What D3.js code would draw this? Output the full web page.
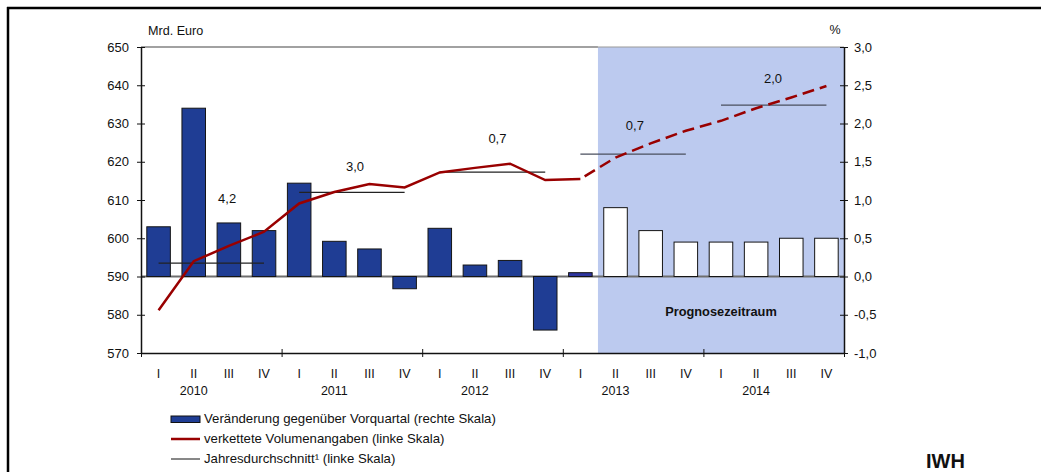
<!DOCTYPE html>
<html>
<head>
<meta charset="utf-8">
<script src="https://cdn.jsdelivr.net/npm/d3@7"></script>
<style>
	body { margin: 0; background: #fff; }
	svg text { font-family: "Liberation Sans", Arial, sans-serif; fill: #111; }
</style>
</head>
<body>
<div id="chart"></div>
<script>
(function () {
	//Data
	const years = ['2010', '2011', '2012', '2013', '2014'];
	const quarterNames = ['I', 'II', 'III', 'IV'];

	//Veränderung gegenüber Vorquartal, % (right scale)
	const changeValues = [0.65, 2.2, 0.7, 0.6, 1.22, 0.46, 0.36, -0.16, 0.63, 0.15, 0.21, -0.7, 0.05,
		0.9, 0.6, 0.45, 0.45, 0.45, 0.5, 0.5];

	//verkettete Volumenangaben, Mrd. Euro (left scale)
	const volumeValues = [581.2, 594.0, 598.0, 601.7, 609.1, 612.1, 614.2, 613.3, 617.2, 618.4, 619.5, 615.2, 615.5,
		621.1, 624.8, 628.1, 630.7, 634.0, 636.8, 639.8];

	//Jahresdurchschnitt (left scale) and annual growth labels
	const yearAverages = [593.5, 612.0, 617.3, 622.0, 634.8];
	const yearGrowth = ['4,2', '3,0', '0,7', '0,7', '2,0'];

	const firstForecast = 13;      //2013 II is the first forecast quarter
	const leftTicks = [570, 580, 590, 600, 610, 620, 630, 640, 650];
	const rightTicks = [-1, -0.5, 0, 0.5, 1, 1.5, 2, 2.5, 3];

	//Where the growth labels sit: quarter offset inside the year and height on the left scale
	const labelQuarter = [1.95, 1.59, 1.64, 1.55, 1.48];
	const labelLevel = [610, 618.4, 625.7, 629.3, 641.4];

	let quarters = [];
	years.forEach(y => quarterNames.forEach(q => quarters.push(y + '-' + q)));

	const W = 1041, H = 472;
	let plot = { left: 141, right: 844, top: 47, bottom: 353 };

	let svg = d3.select('#chart')
		.append('svg')
		.attr('width', W)
		.attr('height', H);

	//Scales
	let xScale = d3.scaleBand()
		.domain(quarters)
		.range([plot.left, plot.right])
		.paddingInner(0.33)
		.paddingOuter(0.165);

	let xq = d3.scaleLinear()
		.domain([0, quarters.length])
		.range([plot.left, plot.right]);

	let yLeft = d3.scaleLinear()
		.domain([570, 650])
		.range([plot.bottom, plot.top]);

	let yRight = d3.scaleLinear()
		.domain([-1, 3])
		.range([plot.bottom, plot.top]);

	const center = (i) => xScale(quarters[i]) + xScale.bandwidth() / 2;
	const comma = (d) => d.toFixed(1).replace('.', ',');

	//Outer frame (top and left edge only)
	svg.append('line')
		.attr('x1', 7).attr('x2', W).attr('y1', 8).attr('y2', 8)
		.attr('stroke', '#000').attr('stroke-width', 2.5);
	svg.append('line')
		.attr('x1', 8).attr('x2', 8).attr('y1', 7).attr('y2', H)
		.attr('stroke', '#000').attr('stroke-width', 2.5);

	//Forecast shading
	svg.append('rect')
		.attr('x', xq(firstForecast))
		.attr('y', plot.top)
		.attr('width', plot.right - xq(firstForecast))
		.attr('height', plot.bottom - plot.top)
		.attr('fill', '#bccaef');

	//Top border of the plot area
	svg.append('line')
		.attr('x1', plot.left).attr('x2', xq(firstForecast))
		.attr('y1', plot.top).attr('y2', plot.top)
		.attr('stroke', '#444').attr('stroke-width', 1.2);
	svg.append('line')
		.attr('x1', xq(firstForecast)).attr('x2', plot.right)
		.attr('y1', plot.top).attr('y2', plot.top)
		.attr('stroke', '#999').attr('stroke-width', 1.2);

	svg.append('text')
		.attr('x', xq(firstForecast + 3.5))
		.attr('y', yRight(-0.47))
		.attr('text-anchor', 'middle')
		.attr('dominant-baseline', 'middle')
		.style('font-size', '12.8px')
		.style('font-weight', 'bold')
		.text('Prognosezeitraum');

	//Zero line
	svg.append('line')
		.attr('x1', plot.left).attr('x2', plot.right)
		.attr('y1', yRight(0)).attr('y2', yRight(0))
		.attr('stroke', '#6e6e6e').attr('stroke-width', 2);

	//Bars
	svg.selectAll('rect.bar')
		.data(changeValues)
		.enter()
		.append('rect')
		.attr('class', 'bar')
		.attr('x', (d, i) => xScale(quarters[i]))
		.attr('y', d => yRight(Math.max(d, 0)))
		.attr('width', xScale.bandwidth())
		.attr('height', d => Math.abs(yRight(d) - yRight(0)))
		.attr('fill', (d, i) => i >= firstForecast ? '#fff' : (i === firstForecast - 1 ? '#2e35a0' : '#1f3d94'))
		.attr('stroke', '#151515')
		.attr('stroke-width', 1);

	//Annual averages
	svg.selectAll('line.avg')
		.data(yearAverages)
		.enter()
		.append('line')
		.attr('class', 'avg')
		.attr('x1', (d, i) => center(i * 4))
		.attr('x2', (d, i) => center(i * 4 + 3))
		.attr('y1', d => yLeft(d))
		.attr('y2', d => yLeft(d))
		.attr('stroke', (d, i) => i >= 3 ? '#4a4f5e' : '#222')
		.attr('stroke-width', 1.3);

	svg.selectAll('text.growth')
		.data(yearGrowth)
		.enter()
		.append('text')
		.attr('class', 'growth')
		.attr('x', (d, i) => xq(i * 4 + labelQuarter[i] + 0.5))
		.attr('y', (d, i) => yLeft(labelLevel[i]))
		.attr('text-anchor', 'middle')
		.attr('dominant-baseline', 'middle')
		.style('font-size', '13px')
		.text(d => d);

	//Volume line: solid for actuals, dashed for forecast
	let line = d3.line()
		.x(d => center(d.i))
		.y(d => yLeft(d.v));

	let volume = volumeValues.map((v, i) => ({ i, v }));

	svg.append('path')
		.datum(volume.slice(0, firstForecast))
		.attr('d', line)
		.attr('fill', 'none')
		.attr('stroke', '#990000')
		.attr('stroke-width', 2.5);

	svg.append('path')
		.datum(volume.slice(firstForecast - 1))
		.attr('d', line)
		.attr('fill', 'none')
		.attr('stroke', '#990000')
		.attr('stroke-width', 2.5)
		.attr('stroke-dasharray', '12,6')
		.attr('stroke-dashoffset', -5);

	//Left axis
	let leftAxis = svg.append('g')
		.attr('transform', `translate(${plot.left},0)`)
		.call(d3.axisLeft(yLeft).tickValues(leftTicks).tickSize(4).tickPadding(8).tickSizeOuter(0));
	leftAxis.selectAll('.tick line').attr('x2', 4).attr('x1', -4).attr('stroke', '#111');
	leftAxis.select('.domain').attr('stroke', '#111').attr('stroke-width', 1.5);
	leftAxis.selectAll('text').style('font-size', '13px').style('font-family', '"Liberation Sans", Arial, sans-serif');

	//Right axis
	let rightAxis = svg.append('g')
		.attr('transform', `translate(${plot.right},0)`)
		.call(d3.axisRight(yRight).tickValues(rightTicks).tickFormat(comma).tickSize(4).tickPadding(6).tickSizeOuter(0));
	rightAxis.selectAll('.tick line').attr('x1', -4).attr('x2', 4).attr('stroke', '#111');
	rightAxis.select('.domain').attr('stroke', '#111').attr('stroke-width', 1.5);
	rightAxis.selectAll('text').style('font-size', '13px').style('font-family', '"Liberation Sans", Arial, sans-serif');

	//Bottom axis: ticks at year boundaries
	let bottomAxis = svg.append('g')
		.attr('transform', `translate(0,${plot.bottom})`)
		.call(d3.axisBottom(xq).tickValues(d3.range(0, quarters.length + 1, 4)).tickFormat('').tickSize(4).tickSizeOuter(0));
	bottomAxis.selectAll('.tick line').attr('y1', -4).attr('y2', 4).attr('stroke', '#111');
	bottomAxis.select('.domain').attr('stroke', '#111').attr('stroke-width', 1.5);

	svg.selectAll('text.quarter')
		.data(quarters)
		.enter()
		.append('text')
		.attr('class', 'quarter')
		.attr('x', (d, i) => center(i))
		.attr('y', 375)
		.attr('text-anchor', 'middle')
		.attr('dominant-baseline', 'middle')
		.style('font-size', '12.5px')
		.text(d => d.split('-')[1]);

	svg.selectAll('text.year')
		.data(years)
		.enter()
		.append('text')
		.attr('class', 'year')
		.attr('x', (d, i) => center(i * 4 + 1))
		.attr('y', 392)
		.attr('text-anchor', 'middle')
		.attr('dominant-baseline', 'middle')
		.style('font-size', '12.5px')
		.text(d => d);

	//Axis titles
	svg.append('text')
		.attr('x', 148).attr('y', 32)
		.attr('dominant-baseline', 'middle')
		.style('font-size', '12.6px')
		.text('Mrd. Euro');

	svg.append('text')
		.attr('x', 835).attr('y', 31)
		.attr('text-anchor', 'middle')
		.attr('dominant-baseline', 'middle')
		.style('font-size', '12.5px')
		.text('%');

	//Legend
	let legend = svg.append('g').attr('transform', 'translate(171,0)');

	legend.append('rect')
		.attr('x', 0).attr('y', 416)
		.attr('width', 29).attr('height', 6.5)
		.attr('fill', '#1f3d94').attr('stroke', '#111').attr('stroke-width', 1);
	legend.append('line')
		.attr('x1', 0).attr('x2', 29).attr('y1', 439).attr('y2', 439)
		.attr('stroke', '#990000').attr('stroke-width', 2.5);
	legend.append('line')
		.attr('x1', 0).attr('x2', 29).attr('y1', 459).attr('y2', 459)
		.attr('stroke', '#111').attr('stroke-width', 1);

	const legendLabels = [
		'Veränderung gegenüber Vorquartal (rechte Skala)',
		'verkettete Volumenangaben (linke Skala)',
		'Jahresdurchschnitt¹ (linke Skala)'
	];

	legend.selectAll('text')
		.data(legendLabels)
		.enter()
		.append('text')
		.attr('x', 33)
		.attr('y', (d, i) => 419.5 + i * 20)
		.attr('dominant-baseline', 'middle')
		.style('font-size', '13.2px')
		.text(d => d);

	svg.append('text')
		.attr('x', 926).attr('y', 468)
		.style('font-size', '20px')
		.style('font-weight', 'bold')
		.text('IWH');
})();
</script>
</body>
</html>
